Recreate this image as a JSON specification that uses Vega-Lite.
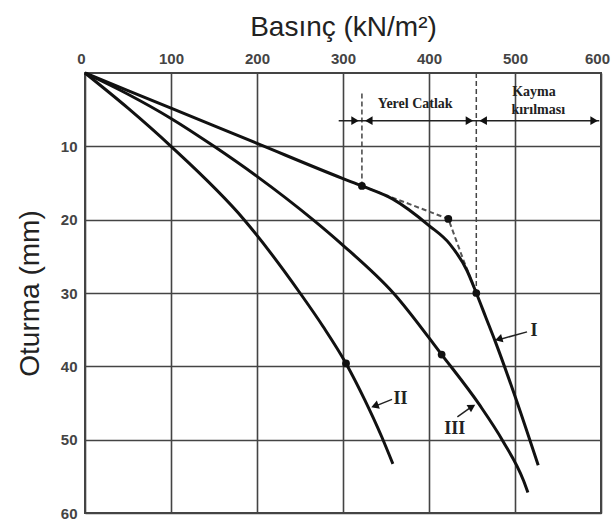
{
  "$schema": "https://vega.github.io/schema/vega-lite/v6.json",
  "width": 516,
  "height": 440,
  "autosize": "none",
  "padding": {"left": 85, "top": 73, "right": 11, "bottom": 10},
  "background": "white",
  "config": {
    "view": {"stroke": "#444", "strokeWidth": 2},
    "axis": {"gridColor": "#444", "gridWidth": 1.6, "gridOpacity": 1, "domain": false, "ticks": false,
             "labelFont": "Liberation Sans", "labelFontWeight": "bold", "labelFontSize": 15, "labelColor": "#444",
             "titleFont": "Liberation Sans", "titleFontWeight": "normal", "titleFontSize": 28, "titleColor": "#222"}
  },
  "datasets": {
    "curves": [
      {"curve": "I", "p": 0, "s": 0}, {"curve": "I", "p": 100, "s": 4.8}, {"curve": "I", "p": 200, "s": 9.6},
      {"curve": "I", "p": 300, "s": 14.4}, {"curve": "I", "p": 322, "s": 15.4}, {"curve": "I", "p": 358, "s": 17.2},
      {"curve": "I", "p": 400, "s": 20.8}, {"curve": "I", "p": 424, "s": 23.3}, {"curve": "I", "p": 444, "s": 26.9},
      {"curve": "I", "p": 455, "s": 30}, {"curve": "I", "p": 466, "s": 33.3}, {"curve": "I", "p": 477, "s": 36.6},
      {"curve": "I", "p": 498, "s": 43.4}, {"curve": "I", "p": 527, "s": 53.5},
      {"curve": "II", "p": 0, "s": 0}, {"curve": "II", "p": 50, "s": 4.8}, {"curve": "II", "p": 100, "s": 10},
      {"curve": "II", "p": 185, "s": 20}, {"curve": "II", "p": 250, "s": 30}, {"curve": "II", "p": 277, "s": 34.6},
      {"curve": "II", "p": 303.5, "s": 39.6}, {"curve": "II", "p": 325, "s": 44.5}, {"curve": "II", "p": 345, "s": 49.6},
      {"curve": "II", "p": 358, "s": 53.3},
      {"curve": "III", "p": 0, "s": 0}, {"curve": "III", "p": 50, "s": 2.9}, {"curve": "III", "p": 100, "s": 6.2},
      {"curve": "III", "p": 150, "s": 10}, {"curve": "III", "p": 200, "s": 14.1}, {"curve": "III", "p": 265, "s": 20},
      {"curve": "III", "p": 300, "s": 23.5}, {"curve": "III", "p": 358.5, "s": 30}, {"curve": "III", "p": 414.7, "s": 38.4},
      {"curve": "III", "p": 459, "s": 45.3}, {"curve": "III", "p": 486, "s": 50.2}, {"curve": "III", "p": 510, "s": 55.6},
      {"curve": "III", "p": 515, "s": 57.2}
    ],
    "dashed": [
      {"p": 322, "s": 15.4}, {"p": 422.5, "s": 19.9}, {"p": 440, "s": 25.5}, {"p": 455, "s": 30}
    ],
    "markers": [
      {"p": 322, "s": 15.4}, {"p": 422.5, "s": 19.9}, {"p": 455, "s": 30}, {"p": 414.7, "s": 38.4}, {"p": 303.5, "s": 39.6}
    ],
    "vrules": [
      {"p": 322, "s1": 2.8, "s2": 15.4}, {"p": 455, "s1": 0, "s2": 30}
    ],
    "hline": [
      {"p1": 295, "p2": 598, "s": 6.5}
    ],
    "hheads": [
      {"p": 314, "s": 6.5, "dir": "r"}, {"p": 330, "s": 6.5, "dir": "l"},
      {"p": 447, "s": 6.5, "dir": "r"}, {"p": 463, "s": 6.5, "dir": "l"},
      {"p": 592, "s": 6.5, "dir": "r"}
    ],
    "larrows": [
      {"id": "I", "p1": 514, "s1": 35.3, "p2": 480, "s2": 36.4},
      {"id": "II", "p1": 357, "s1": 44.5, "p2": 336, "s2": 45.5},
      {"id": "III", "p1": 433, "s1": 46.9, "p2": 451, "s2": 45.4}
    ],
    "lheads": [
      {"id": "I", "p": 481, "s": 36.3},
      {"id": "II", "p": 337, "s": 45.4},
      {"id": "III", "p": 450, "s": 45.5}
    ],
    "labels": [
      {"t": "I", "p": 522, "s": 35.2},
      {"t": "II", "p": 367, "s": 44.4},
      {"t": "III", "p": 430, "s": 48.5}
    ],
    "notes": [
      {"t": "Yerel Catlak", "p": 384, "s": 4.2},
      {"t": "Kayma", "p": 522, "s": 2.6},
      {"t": "kırılması", "p": 527, "s": 5.0}
    ]
  },
  "layer": [
    {
      "data": {"name": "vrules"},
      "mark": {"type": "rule", "color": "#444", "strokeWidth": 1.5, "strokeDash": [5, 3]},
      "encoding": {
        "x": {"field": "p", "type": "quantitative", "scale": {"domain": [0, 600], "nice": false},
              "axis": {"orient": "top", "values": [0, 100, 200, 300, 400, 500, 600], "title": "Basınç (kN/m²)", "titlePadding": 10, "labelPadding": 7,
                       "labelAlign": {"condition": {"test": "datum.value === 0", "value": "right"}, "value": "center"},
                       "labelOffset": {"condition": {"test": "datum.value === 600", "value": -4}, "value": 0}}},
        "y": {"field": "s1", "type": "quantitative", "scale": {"domain": [0, 60], "reverse": true, "nice": false},
              "axis": {"values": [10, 20, 30, 40, 50, 60], "title": "Oturma (mm)", "titlePadding": 16, "labelPadding": 8}},
        "y2": {"field": "s2"}
      }
    },
    {
      "data": {"name": "hline"},
      "mark": {"type": "rule", "color": "#222", "strokeWidth": 1.5},
      "encoding": {
        "x": {"field": "p1", "type": "quantitative"},
        "x2": {"field": "p2"},
        "y": {"field": "s", "type": "quantitative"}
      }
    },
    {
      "data": {"name": "hheads"},
      "mark": {"type": "point", "filled": true, "color": "#111", "opacity": 1, "size": 75},
      "encoding": {
        "x": {"field": "p", "type": "quantitative"},
        "y": {"field": "s", "type": "quantitative"},
        "shape": {"field": "dir", "type": "nominal", "scale": {"domain": ["r", "l"], "range": ["triangle-right", "triangle-left"]}, "legend": null}
      }
    },
    {
      "data": {"name": "dashed"},
      "mark": {"type": "line", "color": "#555", "strokeWidth": 2, "strokeDash": [5, 3]},
      "encoding": {
        "x": {"field": "p", "type": "quantitative"},
        "y": {"field": "s", "type": "quantitative"}
      }
    },
    {
      "data": {"name": "curves"},
      "mark": {"type": "line", "color": "#111", "strokeWidth": 3, "interpolate": "monotone"},
      "encoding": {
        "x": {"field": "p", "type": "quantitative"},
        "y": {"field": "s", "type": "quantitative"},
        "detail": {"field": "curve", "type": "nominal"}
      }
    },
    {
      "data": {"name": "markers"},
      "mark": {"type": "point", "shape": "circle", "filled": true, "color": "#111", "opacity": 1, "size": 60},
      "encoding": {
        "x": {"field": "p", "type": "quantitative"},
        "y": {"field": "s", "type": "quantitative"}
      }
    },
    {
      "data": {"name": "larrows"},
      "mark": {"type": "rule", "color": "#222", "strokeWidth": 1.5},
      "encoding": {
        "x": {"field": "p1", "type": "quantitative"},
        "x2": {"field": "p2"},
        "y": {"field": "s1", "type": "quantitative"},
        "y2": {"field": "s2"}
      }
    },
    {
      "data": {"name": "lheads"},
      "transform": [{"filter": "datum.id == 'I'"}],
      "mark": {"type": "point", "shape": "triangle-left", "filled": true, "color": "#111", "opacity": 1, "size": 75, "angle": -16},
      "encoding": {
        "x": {"field": "p", "type": "quantitative"},
        "y": {"field": "s", "type": "quantitative"}
      }
    },
    {
      "data": {"name": "lheads"},
      "transform": [{"filter": "datum.id == 'II'"}],
      "mark": {"type": "point", "shape": "triangle-left", "filled": true, "color": "#111", "opacity": 1, "size": 75, "angle": -20},
      "encoding": {
        "x": {"field": "p", "type": "quantitative"},
        "y": {"field": "s", "type": "quantitative"}
      }
    },
    {
      "data": {"name": "lheads"},
      "transform": [{"filter": "datum.id == 'III'"}],
      "mark": {"type": "point", "shape": "triangle-right", "filled": true, "color": "#111", "opacity": 1, "size": 75, "angle": -31},
      "encoding": {
        "x": {"field": "p", "type": "quantitative"},
        "y": {"field": "s", "type": "quantitative"}
      }
    },
    {
      "data": {"name": "labels"},
      "mark": {"type": "text", "font": "Liberation Serif", "fontWeight": "bold", "fontSize": 18, "color": "#222", "align": "center", "baseline": "middle"},
      "encoding": {
        "x": {"field": "p", "type": "quantitative"},
        "y": {"field": "s", "type": "quantitative"},
        "text": {"field": "t"}
      }
    },
    {
      "data": {"name": "notes"},
      "mark": {"type": "text", "font": "Liberation Serif", "fontWeight": "bold", "fontSize": 14, "color": "#222", "align": "center", "baseline": "middle"},
      "encoding": {
        "x": {"field": "p", "type": "quantitative"},
        "y": {"field": "s", "type": "quantitative"},
        "text": {"field": "t"}
      }
    }
  ]
}
